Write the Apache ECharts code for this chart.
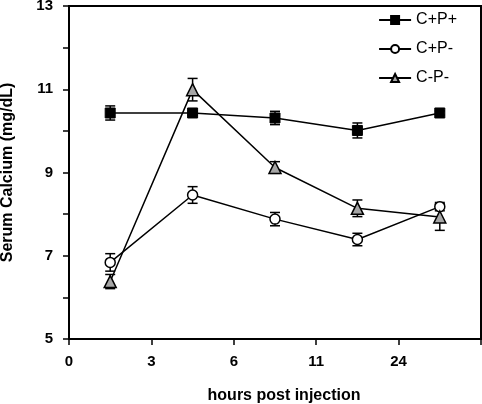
<!DOCTYPE html>
<html><head><meta charset="utf-8">
<script src="https://cdn.jsdelivr.net/npm/echarts@6/dist/echarts.min.js"></script>
<style>html,body{margin:0;padding:0;background:#fff}#c{width:482px;height:404px}</style>
</head><body><div id="c"></div>
<script>
// Tick labels of the (evenly spaced) x axis
var xTickLabels = ['0', '3', '6', '11', '24', ''];
// Sampling slots (positions between ticks, in axis units)
var timeSlots = [0.5, 1.5, 2.5, 3.5, 4.5];
var seriesNames = ['C+P+', 'C+P-', 'C-P-'];
var cppMean = [10.43, 10.43, 10.31, 10.01, 10.43];
var cppErr  = [0.17, 0.05, 0.16, 0.18, 0.05];
var cpmMean = [6.84, 8.46, 7.88, 7.39, 8.18];
var cpmErr  = [0.21, 0.2, 0.16, 0.15, 0.1];
var cmmMean = [6.38, 10.99, 9.12, 8.14, 7.93];
var cmmErr  = [0.17, 0.27, 0.14, 0.2, 0.32];

function pts(m) { return timeSlots.map(function (x, i) { return [x, m[i]]; }); }
function errData(m, e) { return timeSlots.map(function (x, i) { return [x, m[i] - e[i], m[i] + e[i]]; }); }
function errSeries(m, e) {
  return {
    type: 'custom', silent: true, z: 1,
    data: errData(m, e),
    renderItem: function (params, api) {
      var lo = api.coord([api.value(0), api.value(1)]);
      var hi = api.coord([api.value(0), api.value(2)]);
      var w = 5;
      var st = { stroke: '#000', lineWidth: 1.5 };
      return { type: 'group', children: [
        { type: 'line', shape: { x1: lo[0], y1: lo[1], x2: hi[0], y2: hi[1] }, style: st },
        { type: 'line', shape: { x1: lo[0] - w, y1: lo[1], x2: lo[0] + w, y2: lo[1] }, style: st },
        { type: 'line', shape: { x1: hi[0] - w, y1: hi[1], x2: hi[0] + w, y2: hi[1] }, style: st }
      ]};
    }
  };
}
var font = 'Arial, "Liberation Sans", sans-serif';
var chart = echarts.init(document.getElementById('c'));
chart.setOption({
  animation: false,
  grid: { left: 69, right: 1, top: 6, bottom: 65, show: true, borderColor: '#000', borderWidth: 2,
          containLabel: false, outerBoundsMode: 'none' },
  legend: {
    orient: 'vertical', right: 20, top: 7, itemGap: 13, itemWidth: 32, itemHeight: 10,
    data: seriesNames,
    textStyle: { fontFamily: font, fontSize: 16, color: '#000' }
  },
  xAxis: {
    type: 'value', min: 0, max: 5, interval: 1,
    name: 'hours post injection', nameLocation: 'middle', nameGap: 49,
    nameTextStyle: { fontFamily: font, fontSize: 16, fontWeight: 'bold', color: '#000', padding: [0, 0, 0, 18] },
    axisLine: { show: true, lineStyle: { color: '#000', width: 2 } },
    axisTick: { show: true, length: 6, lineStyle: { color: '#000', width: 1.5 } },
    axisLabel: { margin: 15, fontFamily: font, fontSize: 15, fontWeight: 'bold', color: '#000',
      formatter: function (v) { return xTickLabels[Math.round(v)]; } },
    splitLine: { show: false }
  },
  yAxis: {
    type: 'value', min: 5, max: 13, interval: 2,
    name: 'Serum Calcium (mg/dL)', nameLocation: 'middle', nameGap: 53,
    nameTextStyle: { fontFamily: font, fontSize: 16, fontWeight: 'bold', color: '#000' },
    axisLine: { show: true, lineStyle: { color: '#000', width: 2 } },
    axisTick: { show: true, length: 6, lineStyle: { color: '#000', width: 1.5 } },
    minorTick: { show: true, splitNumber: 2, length: 6, lineStyle: { color: '#000', width: 1.5 } },
    axisLabel: { margin: 16, fontFamily: font, fontSize: 15, fontWeight: 'bold', color: '#000' },
    splitLine: { show: false }
  },
  series: [
    errSeries(cppMean, cppErr), errSeries(cpmMean, cpmErr), errSeries(cmmMean, cmmErr),
    { name: 'C+P+', type: 'line', z: 3, data: pts(cppMean), symbol: 'rect', symbolSize: 10,
      lineStyle: { color: '#000', width: 1.5 }, itemStyle: { color: '#000', borderColor: '#000', borderWidth: 1 } },
    { name: 'C+P-', type: 'line', z: 3, data: pts(cpmMean), symbol: 'circle', symbolSize: 10,
      lineStyle: { color: '#000', width: 1.5 }, itemStyle: { color: '#fff', borderColor: '#000', borderWidth: 1.5 } },
    { name: 'C-P-', type: 'line', z: 3, data: pts(cmmMean), symbol: 'triangle', symbolSize: 12,
      lineStyle: { color: '#000', width: 1.5 }, itemStyle: { color: '#a6a6a6', borderColor: '#000', borderWidth: 1.5 } }
  ]
});
</script></body></html>
